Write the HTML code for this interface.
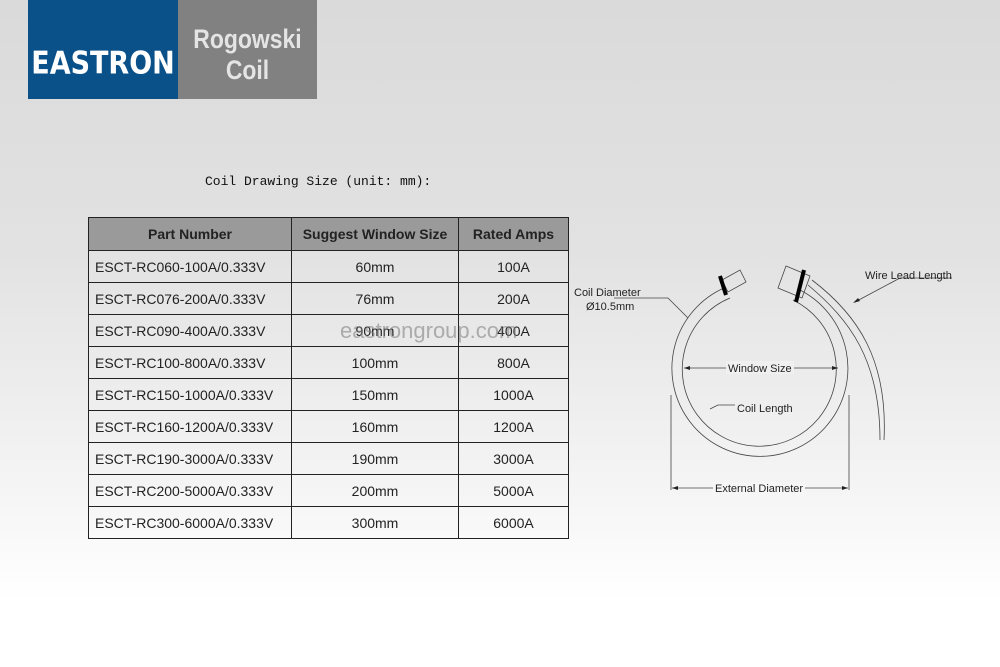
<!DOCTYPE html>
<html><head><meta charset="utf-8"><style>
html,body{margin:0;padding:0}
body{width:1000px;height:667px;position:relative;overflow:hidden;background:linear-gradient(#dadada 0px,#e2e2e2 250px,#f4f4f4 480px,#ffffff 600px);font-family:"Liberation Sans",sans-serif}
.blue{position:absolute;left:28px;top:0;width:150px;height:99px;background:#0a5089}
.gray{position:absolute;left:178px;top:0;width:139px;height:99px;background:#818181}
.logo{position:absolute;left:28px;top:46px;width:150px;text-align:center;color:#fff;font:bold 30px "DejaVu Sans Condensed","Liberation Sans",sans-serif;transform:scaleY(1.05)}
.rg{position:absolute;left:178px;top:24px;width:139px;text-align:center;color:#e4e4e4;font:bold 27px/31px "Liberation Sans Narrow","Liberation Sans",sans-serif;transform:scaleX(0.85)}
.cap{position:absolute;left:205px;top:174px;font:13px "Liberation Mono","Noto Sans CJK SC",monospace;color:#111}
table{position:absolute;left:88px;top:217px;width:480px;table-layout:fixed;border-collapse:collapse;font-size:14px;color:#222}
td{border:1.5px solid #222;height:31px;padding:0;text-align:center;white-space:nowrap}
tr.h td{background:#9a9a9a;height:32px;font-weight:bold;color:#222}
td.l{text-align:left;padding-left:6px}
.wm{position:absolute;left:340px;top:318px;font-size:22px;color:rgba(120,120,120,0.55)}
</style></head><body>
<div class="blue"></div><div class="gray"></div>
<div class="logo">EASTRON</div>
<div class="rg">Rogowski<br>Coil</div>
<div class="cap">Coil Drawing Size (unit: mm):</div>
<table>
<colgroup><col style="width:203px"><col style="width:167px"><col style="width:110px"></colgroup>
<tr class="h"><td>Part Number</td><td>Suggest Window Size</td><td>Rated Amps</td></tr>
<tr><td class="l">ESCT-RC060-100A/0.333V</td><td>60mm</td><td>100A</td></tr>
<tr><td class="l">ESCT-RC076-200A/0.333V</td><td>76mm</td><td>200A</td></tr>
<tr><td class="l">ESCT-RC090-400A/0.333V</td><td>90mm</td><td>400A</td></tr>
<tr><td class="l">ESCT-RC100-800A/0.333V</td><td>100mm</td><td>800A</td></tr>
<tr><td class="l">ESCT-RC150-1000A/0.333V</td><td>150mm</td><td>1000A</td></tr>
<tr><td class="l">ESCT-RC160-1200A/0.333V</td><td>160mm</td><td>1200A</td></tr>
<tr><td class="l">ESCT-RC190-3000A/0.333V</td><td>190mm</td><td>3000A</td></tr>
<tr><td class="l">ESCT-RC200-5000A/0.333V</td><td>200mm</td><td>5000A</td></tr>
<tr><td class="l">ESCT-RC300-6000A/0.333V</td><td>300mm</td><td>6000A</td></tr>
</table>
<div class="wm">eastrongroup.com</div>
<svg style="position:absolute;left:0;top:0" width="1000" height="667" font-family="Liberation Sans, sans-serif" font-size="11" fill="#222">
<g fill="none" stroke="#444" stroke-width="0.8">
<path d="M724,288 A88,88 0 1 0 800,290"/>
<path d="M730,298 A77,77 0 1 0 793,300"/>
<path d="M722,280 l18,-10 l6,12 l-18,10 z"/>
<path d="M786,266 l24,10 l-8,22 l-24,-10 z"/>
<path d="M808,285 C850,320 880,360 880,440"/>
<path d="M812,280 C858,315 888,360 884,440"/>
<path d="M671,395 V490 M849,395 V490"/>
<path d="M672,488 H848"/>
<path d="M684,368 H838"/>
<path d="M614,298 H668 L688,318"/>
<path d="M710,409 L718,405 H735"/>
<path d="M952,278 H900 L855,302"/>
</g>
<g stroke="#000" stroke-width="4"><path d="M720,276 L726,295"/><path d="M804,270 L796,302"/></g>
<g fill="#222"><path d="M684,368 l6,-2 v4z M838,368 l-6,-2 v4z M672,488 l6,-2 v4z M848,488 l-6,-2 v4z M853,303 l5,-5 l2,3z"/></g>
<text x="574" y="296">Coil Diameter</text>
<text x="586" y="310">Ø10.5mm</text>
<text x="865" y="279">Wire Lead Length</text>
<rect x="726" y="361" width="68" height="13" fill="#f0f0f0"/>
<text x="728" y="372">Window Size</text>
<text x="737" y="412">Coil Length</text>
<rect x="713" y="482" width="92" height="13" fill="#f6f6f6"/>
<text x="715" y="492">External Diameter</text>
</svg>
</body></html>
